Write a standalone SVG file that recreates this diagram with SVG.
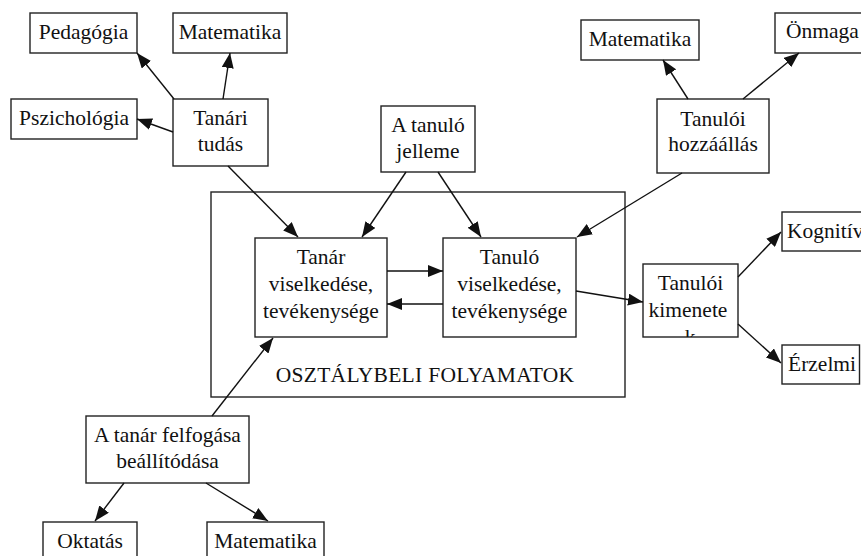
<svg xmlns="http://www.w3.org/2000/svg" width="861" height="556" viewBox="0 0 861 556">
<style>
.b{fill:#fff;stroke:#222;stroke-width:1.4}
.t{font-family:"Liberation Serif","Times New Roman",serif;font-size:21.5px;fill:#111;text-anchor:middle}
.s{text-anchor:start}
.c line{stroke:#111;stroke-width:1.4;marker-end:url(#ah)}
</style>
<defs>
<marker id="ah" markerUnits="userSpaceOnUse" markerWidth="16" markerHeight="12" refX="15" refY="6" orient="auto">
<path d="M0,0 L15,6 L0,12 Z" fill="#111"/>
</marker>
<clipPath id="kc"><rect x="643" y="264" width="95" height="73"/></clipPath>
</defs>
<rect width="861" height="556" fill="#fff"/>
<g id="osztaly">
<rect class="b" x="211" y="192" width="414" height="205"/>
<text class="t" x="425" y="382" letter-spacing="0.3">OSZTÁLYBELI FOLYAMATOK</text>
</g>
<g id="pedagogia"><rect class="b" x="30" y="13" width="107" height="40"/><text class="t" x="83.5" y="39">Pedagógia</text></g>
<g id="matematika1"><rect class="b" x="173" y="13" width="114" height="40"/><text class="t" x="230" y="39">Matematika</text></g>
<g id="pszichologia"><rect class="b" x="11" y="99" width="126" height="40"/><text class="t" x="74" y="125">Pszichológia</text></g>
<g id="tanari"><rect class="b" x="173" y="99" width="95" height="67"/><text class="t" x="220.5" y="125">Tanári</text><text class="t" x="220.5" y="151">tudás</text></g>
<g id="matematika2"><rect class="b" x="581" y="20" width="118" height="40"/><text class="t" x="640" y="46">Matematika</text></g>
<g id="onmaga"><rect class="b" x="775" y="13" width="100" height="40"/><text class="t s" x="786" y="38">Önmaga</text></g>
<g id="hozzaallas"><rect class="b" x="657" y="99" width="112" height="74"/><text class="t" x="713" y="126">Tanulói</text><text class="t" x="713" y="151">hozzáállás</text></g>
<g id="jelleme"><rect class="b" x="381" y="106" width="94" height="66"/><text class="t" x="428" y="132">A tanuló</text><text class="t" x="428" y="158">jelleme</text></g>
<g id="tanar"><rect class="b" x="255" y="238" width="132" height="99"/><text class="t" x="321" y="264">Tanár</text><text class="t" x="321" y="291">viselkedése,</text><text class="t" x="321" y="318">tevékenysége</text></g>
<g id="tanulo"><rect class="b" x="443" y="238" width="133" height="99"/><text class="t" x="509.5" y="264">Tanuló</text><text class="t" x="509.5" y="291">viselkedése,</text><text class="t" x="509.5" y="318">tevékenysége</text></g>
<g id="kimenetek"><rect class="b" x="643" y="264" width="95" height="73"/><g clip-path="url(#kc)"><text class="t" x="690.5" y="290">Tanulói</text><text class="t" x="688" y="317">kimenete</text><text class="t" x="690" y="344">k</text></g></g>
<g id="kognitiv"><rect class="b" x="782" y="212" width="100" height="39"/><text class="t s" x="787" y="238">Kognitív</text></g>
<g id="erzelmi"><rect class="b" x="782" y="345" width="77.5" height="39"/><text class="t s" x="788" y="371">Érzelmi</text></g>
<g id="felfogas"><rect class="b" x="86" y="416" width="163" height="67"/><text class="t" x="167.5" y="442">A tanár felfogása</text><text class="t" x="167.5" y="468">beállítódása</text></g>
<g id="oktatas"><rect class="b" x="43" y="522" width="94" height="50"/><text class="t" x="90" y="548">Oktatás</text></g>
<g id="matematika3"><rect class="b" x="207" y="522" width="117" height="50"/><text class="t" x="265.5" y="548">Matematika</text></g>
<g id="connectors" class="c">
<line x1="174" y1="99" x2="137" y2="53"/>
<line x1="223" y1="99" x2="230" y2="53"/>
<line x1="173" y1="132" x2="137" y2="119"/>
<line x1="228" y1="166" x2="298" y2="237"/>
<line x1="688" y1="99" x2="663" y2="60"/>
<line x1="743" y1="99" x2="799" y2="53"/>
<line x1="682" y1="173" x2="577" y2="237"/>
<line x1="406" y1="172" x2="362" y2="237"/>
<line x1="438" y1="172" x2="481" y2="237"/>
<line x1="387" y1="271" x2="443" y2="271"/>
<line x1="443" y1="304" x2="387" y2="304"/>
<line x1="576" y1="291" x2="643" y2="302"/>
<line x1="738" y1="277" x2="781" y2="232"/>
<line x1="738" y1="324" x2="781" y2="363"/>
<line x1="212" y1="416" x2="273" y2="338"/>
<line x1="124" y1="483" x2="95" y2="521"/>
<line x1="206" y1="483" x2="268" y2="521"/>
</g>
</svg>
